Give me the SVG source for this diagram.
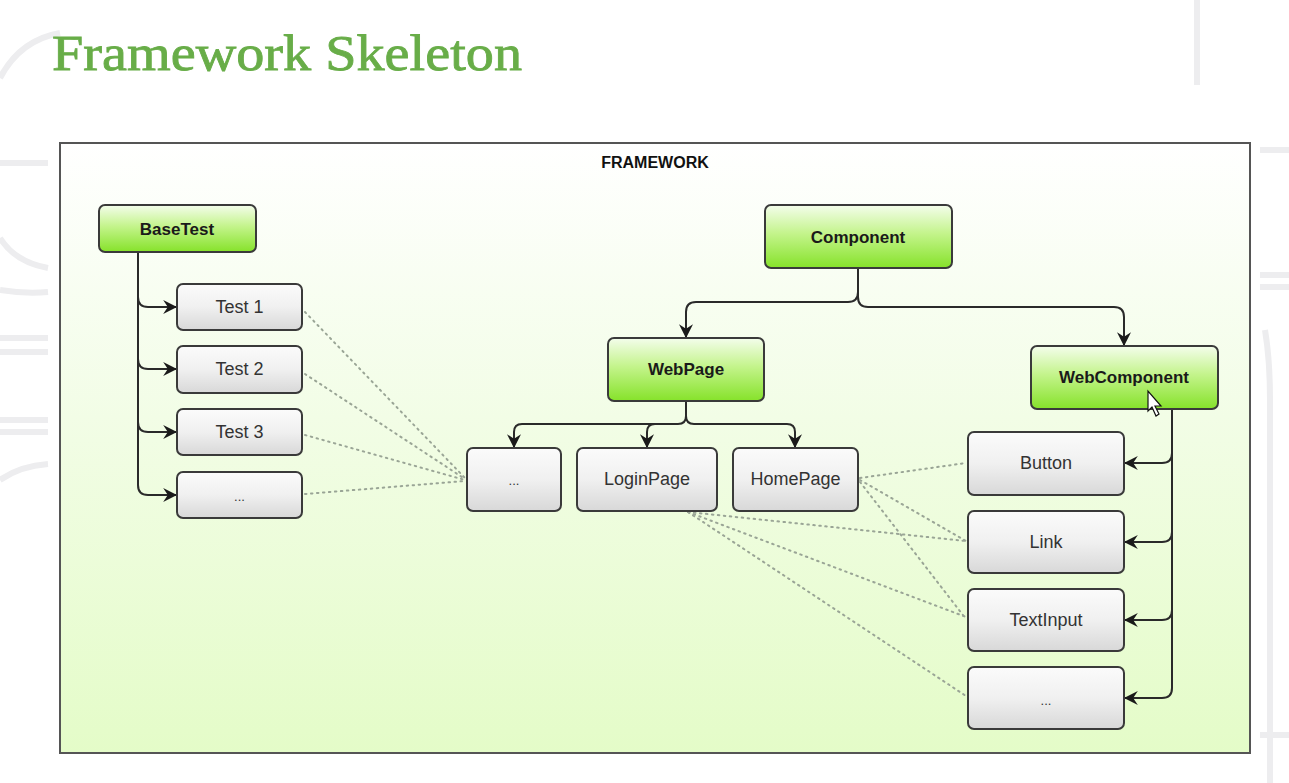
<svg xmlns="http://www.w3.org/2000/svg" width="1289" height="783" viewBox="0 0 1289 783">
<defs>
<linearGradient id="frameFill" x1="0" y1="0" x2="0" y2="1">
<stop offset="0" stop-color="#ffffff"/>
<stop offset="0.45" stop-color="#f2fde6"/>
<stop offset="1" stop-color="#e4fcc8"/>
</linearGradient>
<linearGradient id="greenFill" x1="0" y1="0" x2="0" y2="1">
<stop offset="0" stop-color="#f4fdec"/>
<stop offset="0.45" stop-color="#c4f48c"/>
<stop offset="1" stop-color="#86e22a"/>
</linearGradient>
<linearGradient id="grayFill" x1="0" y1="0" x2="0" y2="1">
<stop offset="0" stop-color="#fbfbfb"/>
<stop offset="0.5" stop-color="#f0f0f0"/>
<stop offset="1" stop-color="#d8d8d8"/>
</linearGradient>
<marker id="arr" viewBox="0 0 12 12" refX="11" refY="6" markerWidth="14" markerHeight="14" markerUnits="userSpaceOnUse" orient="auto">
<path d="M0,0 L12,6 L0,12 L4,6 Z" fill="#1a1a1a"/>
</marker>
</defs>
<style>
.deco{fill:none;stroke:#ededef;stroke-width:6}
.title{font-family:"Liberation Serif",serif;font-size:50px;fill:#68ad48;stroke:#68ad48;stroke-width:0.8}
.frame{fill:url(#frameFill);stroke:#555;stroke-width:2}
.ftitle{font-family:"Liberation Sans",Arial,sans-serif;font-size:16px;font-weight:bold;fill:#111;text-anchor:middle}
.g rect{fill:url(#greenFill);stroke:#3a3a3a;stroke-width:2}
.n rect{fill:url(#grayFill);stroke:#3a3a3a;stroke-width:2}
.g text{font-family:"Liberation Sans",Arial,sans-serif;font-size:17px;font-weight:bold;fill:#1a1a1a;text-anchor:middle;dominant-baseline:central}
.n text{font-family:"Liberation Sans",Arial,sans-serif;font-size:18px;fill:#333;text-anchor:middle;dominant-baseline:central}
.edge{fill:none;stroke:#2a2a2a;stroke-width:2}
.dot{fill:none;stroke:#9aa596;stroke-width:2;stroke-dasharray:1.5 4.5;stroke-linecap:round}
</style>
<rect width="1289" height="783" fill="#ffffff"/>
<g id="background">
<path class="deco" d="M0,78 Q20,40 60,33"/>
<line class="deco" x1="1197" y1="0" x2="1197" y2="85"/>
<line class="deco" x1="0" y1="163" x2="48" y2="163"/>
<path class="deco" d="M0,238 Q15,262 48,268"/>
<path class="deco" d="M0,290 Q25,294 48,292"/>
<line class="deco" x1="0" y1="338" x2="48" y2="338"/>
<line class="deco" x1="0" y1="352" x2="48" y2="352"/>
<line class="deco" x1="0" y1="420" x2="48" y2="420"/>
<line class="deco" x1="0" y1="432" x2="48" y2="432"/>
<path class="deco" d="M0,480 Q20,466 48,464"/>
<line class="deco" x1="1260" y1="150" x2="1289" y2="150"/>
<line class="deco" x1="1260" y1="275" x2="1289" y2="275"/>
<line class="deco" x1="1260" y1="287" x2="1289" y2="287"/>
<path class="deco" d="M1265,330 Q1270,360 1270,400 V783"/>
<line class="deco" x1="1260" y1="735" x2="1289" y2="735"/>
</g>
<text class="title" x="52" y="70" textLength="470" lengthAdjust="spacingAndGlyphs">Framework Skeleton</text>
<rect id="frame" class="frame" x="60" y="143" width="1190" height="610"/>
<text class="ftitle" x="655" y="168">FRAMEWORK</text>
<g id="connectors">
<path class="edge" d="M138,252 V297 Q138,307 148,307 H176" marker-end="url(#arr)"/>
<path class="edge" d="M138,297 V359 Q138,369 148,369 H176" marker-end="url(#arr)"/>
<path class="edge" d="M138,359 V422 Q138,432 148,432 H176" marker-end="url(#arr)"/>
<path class="edge" d="M138,422 V485 Q138,495 148,495 H176" marker-end="url(#arr)"/>
<path class="edge" d="M858,268 V292 Q858,302 848,302 H696 Q686,302 686,312 V337" marker-end="url(#arr)"/>
<path class="edge" d="M858,268 V297 Q858,307 868,307 H1114 Q1124,307 1124,317 V345" marker-end="url(#arr)"/>
<path class="edge" d="M686,401 V416 Q686,424 678,424 H522 Q514,424 514,432 V447" marker-end="url(#arr)"/>
<path class="edge" d="M655,424 Q647,424 647,432 V447" marker-end="url(#arr)"/>
<path class="edge" d="M686,401 V416 Q686,424 694,424 H787 Q795,424 795,432 V447" marker-end="url(#arr)"/>
<path class="edge" d="M1172,409 V453 Q1172,463 1162,463 H1125" marker-end="url(#arr)"/>
<path class="edge" d="M1172,453 V532 Q1172,542 1162,542 H1125" marker-end="url(#arr)"/>
<path class="edge" d="M1172,532 V610 Q1172,620 1162,620 H1125" marker-end="url(#arr)"/>
<path class="edge" d="M1172,610 V688 Q1172,698 1162,698 H1125" marker-end="url(#arr)"/>
<path class="dot" d="M305,312 L465,478"/>
<path class="dot" d="M305,374 L465,479"/>
<path class="dot" d="M305,435 L465,480"/>
<path class="dot" d="M305,494 L465,481"/>
<path class="dot" d="M860,478 L966,463"/>
<path class="dot" d="M860,480 L966,541"/>
<path class="dot" d="M860,482 L966,619"/>
<path class="dot" d="M688,512 L966,541"/>
<path class="dot" d="M688,512 L966,617"/>
<path class="dot" d="M688,512 L966,696"/>
</g>
<g id="BaseTest" class="g"><rect x="99" y="205" width="157" height="47" rx="6"/><text x="177" y="229">BaseTest</text></g>
<g id="Test1" class="n"><rect x="177" y="284" width="125" height="46" rx="6"/><text x="239.5" y="307">Test 1</text></g>
<g id="Test2" class="n"><rect x="177" y="346" width="125" height="47" rx="6"/><text x="239.5" y="369">Test 2</text></g>
<g id="Test3" class="n"><rect x="177" y="409" width="125" height="46" rx="6"/><text x="239.5" y="432">Test 3</text></g>
<g id="TestMore" class="n"><rect x="177" y="472" width="125" height="46" rx="6"/><text x="239.5" y="496" style="font-size:13px">...</text></g>
<g id="Component" class="g"><rect x="765" y="205" width="187" height="63" rx="6"/><text x="858" y="237">Component</text></g>
<g id="WebPage" class="g"><rect x="608" y="338" width="156" height="63" rx="6"/><text x="686" y="369">WebPage</text></g>
<g id="WebComponent" class="g"><rect x="1031" y="346" width="187" height="63" rx="6"/><text x="1124" y="377">WebComponent</text></g>
<g id="PageMore" class="n"><rect x="467" y="448" width="94" height="63" rx="6"/><text x="514" y="480" style="font-size:13px">...</text></g>
<g id="LoginPage" class="n"><rect x="577" y="448" width="140" height="63" rx="6"/><text x="647" y="479">LoginPage</text></g>
<g id="HomePage" class="n"><rect x="733" y="448" width="125" height="63" rx="6"/><text x="795.5" y="479">HomePage</text></g>
<g id="Button" class="n"><rect x="968" y="432" width="156" height="63" rx="6"/><text x="1046" y="463">Button</text></g>
<g id="Link" class="n"><rect x="968" y="511" width="156" height="62" rx="6"/><text x="1046" y="542">Link</text></g>
<g id="TextInput" class="n"><rect x="968" y="589" width="156" height="62" rx="6"/><text x="1046" y="620">TextInput</text></g>
<g id="ComponentMore" class="n"><rect x="968" y="667" width="156" height="62" rx="6"/><text x="1046" y="700" style="font-size:13px">...</text></g>
<path id="cursor" d="M1148,391 V411 L1152,407 L1156,416 L1159,414 L1155,406 L1161,406 Z" fill="#ffffff" stroke="#111" stroke-width="1.2"/>
</svg>
